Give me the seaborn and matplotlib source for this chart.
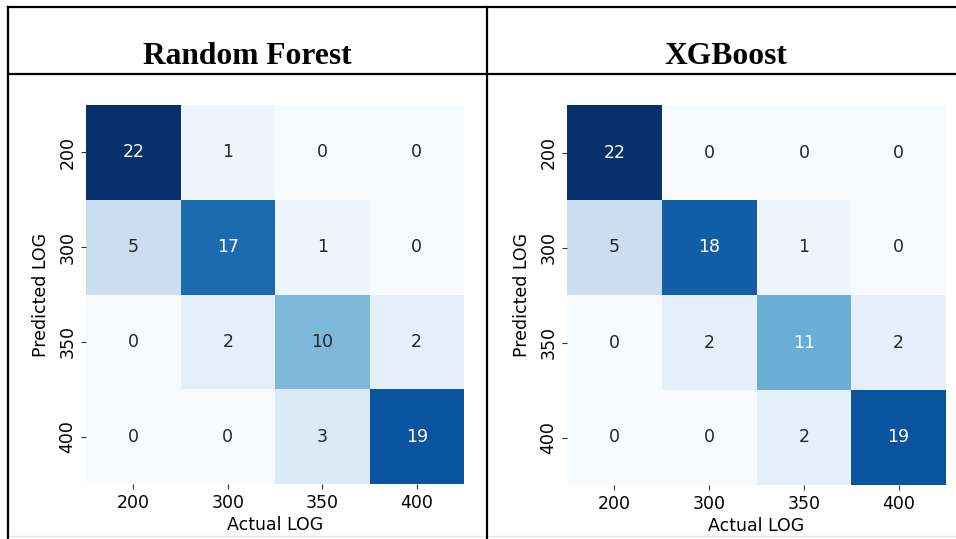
import numpy as np
import pandas as pd
import seaborn as sns
import matplotlib.pyplot as plt
from matplotlib.lines import Line2D

# class labels
labels = ['200', '300', '350', '400']

# confusion matrices (rows = predicted, cols = actual)
rf_cm = [[22, 1, 0, 0],
         [5, 17, 1, 0],
         [0, 2, 10, 2],
         [0, 0, 3, 19]]
xgb_cm = [[22, 0, 0, 0],
          [5, 18, 1, 0],
          [0, 2, 11, 2],
          [0, 0, 2, 19]]
titles = ['Random Forest', 'XGBoost']

plt.rcParams['font.family'] = ['DejaVu Sans']

W, H = 956, 539
fig = plt.figure(figsize=(W / 100, H / 100), dpi=100)

def px(x0, y0, x1, y1):
    # pixel box -> figure fraction rect
    return [x0 / W, 1 - y1 / H, (x1 - x0) / W, (y1 - y0) / H]

boxes = [px(86, 105, 464, 484), px(567, 105, 946, 485)]

for cm, title, box in zip([rf_cm, xgb_cm], titles, boxes):
    ax = fig.add_axes(box)
    df = pd.DataFrame(cm, index=labels, columns=labels)
    sns.heatmap(df, annot=True, fmt='d', cmap='Blues', cbar=False, ax=ax,
                annot_kws={'fontsize': 12.5})
    ax.set_xlabel('Actual LOG', fontsize=12.5, labelpad=3)
    ax.set_ylabel('Predicted LOG', fontsize=12.5, labelpad=6)
    ax.tick_params(labelsize=12.5, color='#333333')
    plt.setp(ax.get_yticklabels(), rotation=90, va='center')

# table frame
lw = 1.6
def hline(y, x0, x1, c='black', w=lw):
    fig.add_artist(Line2D([x0 / W, x1 / W], [1 - y / H, 1 - y / H], color=c, lw=w))
def vline(x, y0, y1):
    fig.add_artist(Line2D([x / W, x / W], [1 - y0 / H, 1 - y1 / H], color='black', lw=lw))

hline(7, 8, W)
hline(74, 8, W)
hline(536, 8, W, c='#e6e6e6', w=1)
vline(8, 7, H)
vline(487, 7, H)

fig.text(247 / W, 1 - 64 / H, titles[0], fontsize=22.7, fontweight='bold',
         family='Liberation Serif', ha='center', va='baseline')
fig.text(726 / W, 1 - 64 / H, titles[1], fontsize=22.7, fontweight='bold',
         family='Liberation Serif', ha='center', va='baseline')

fig.savefig('out.png', dpi=100)
